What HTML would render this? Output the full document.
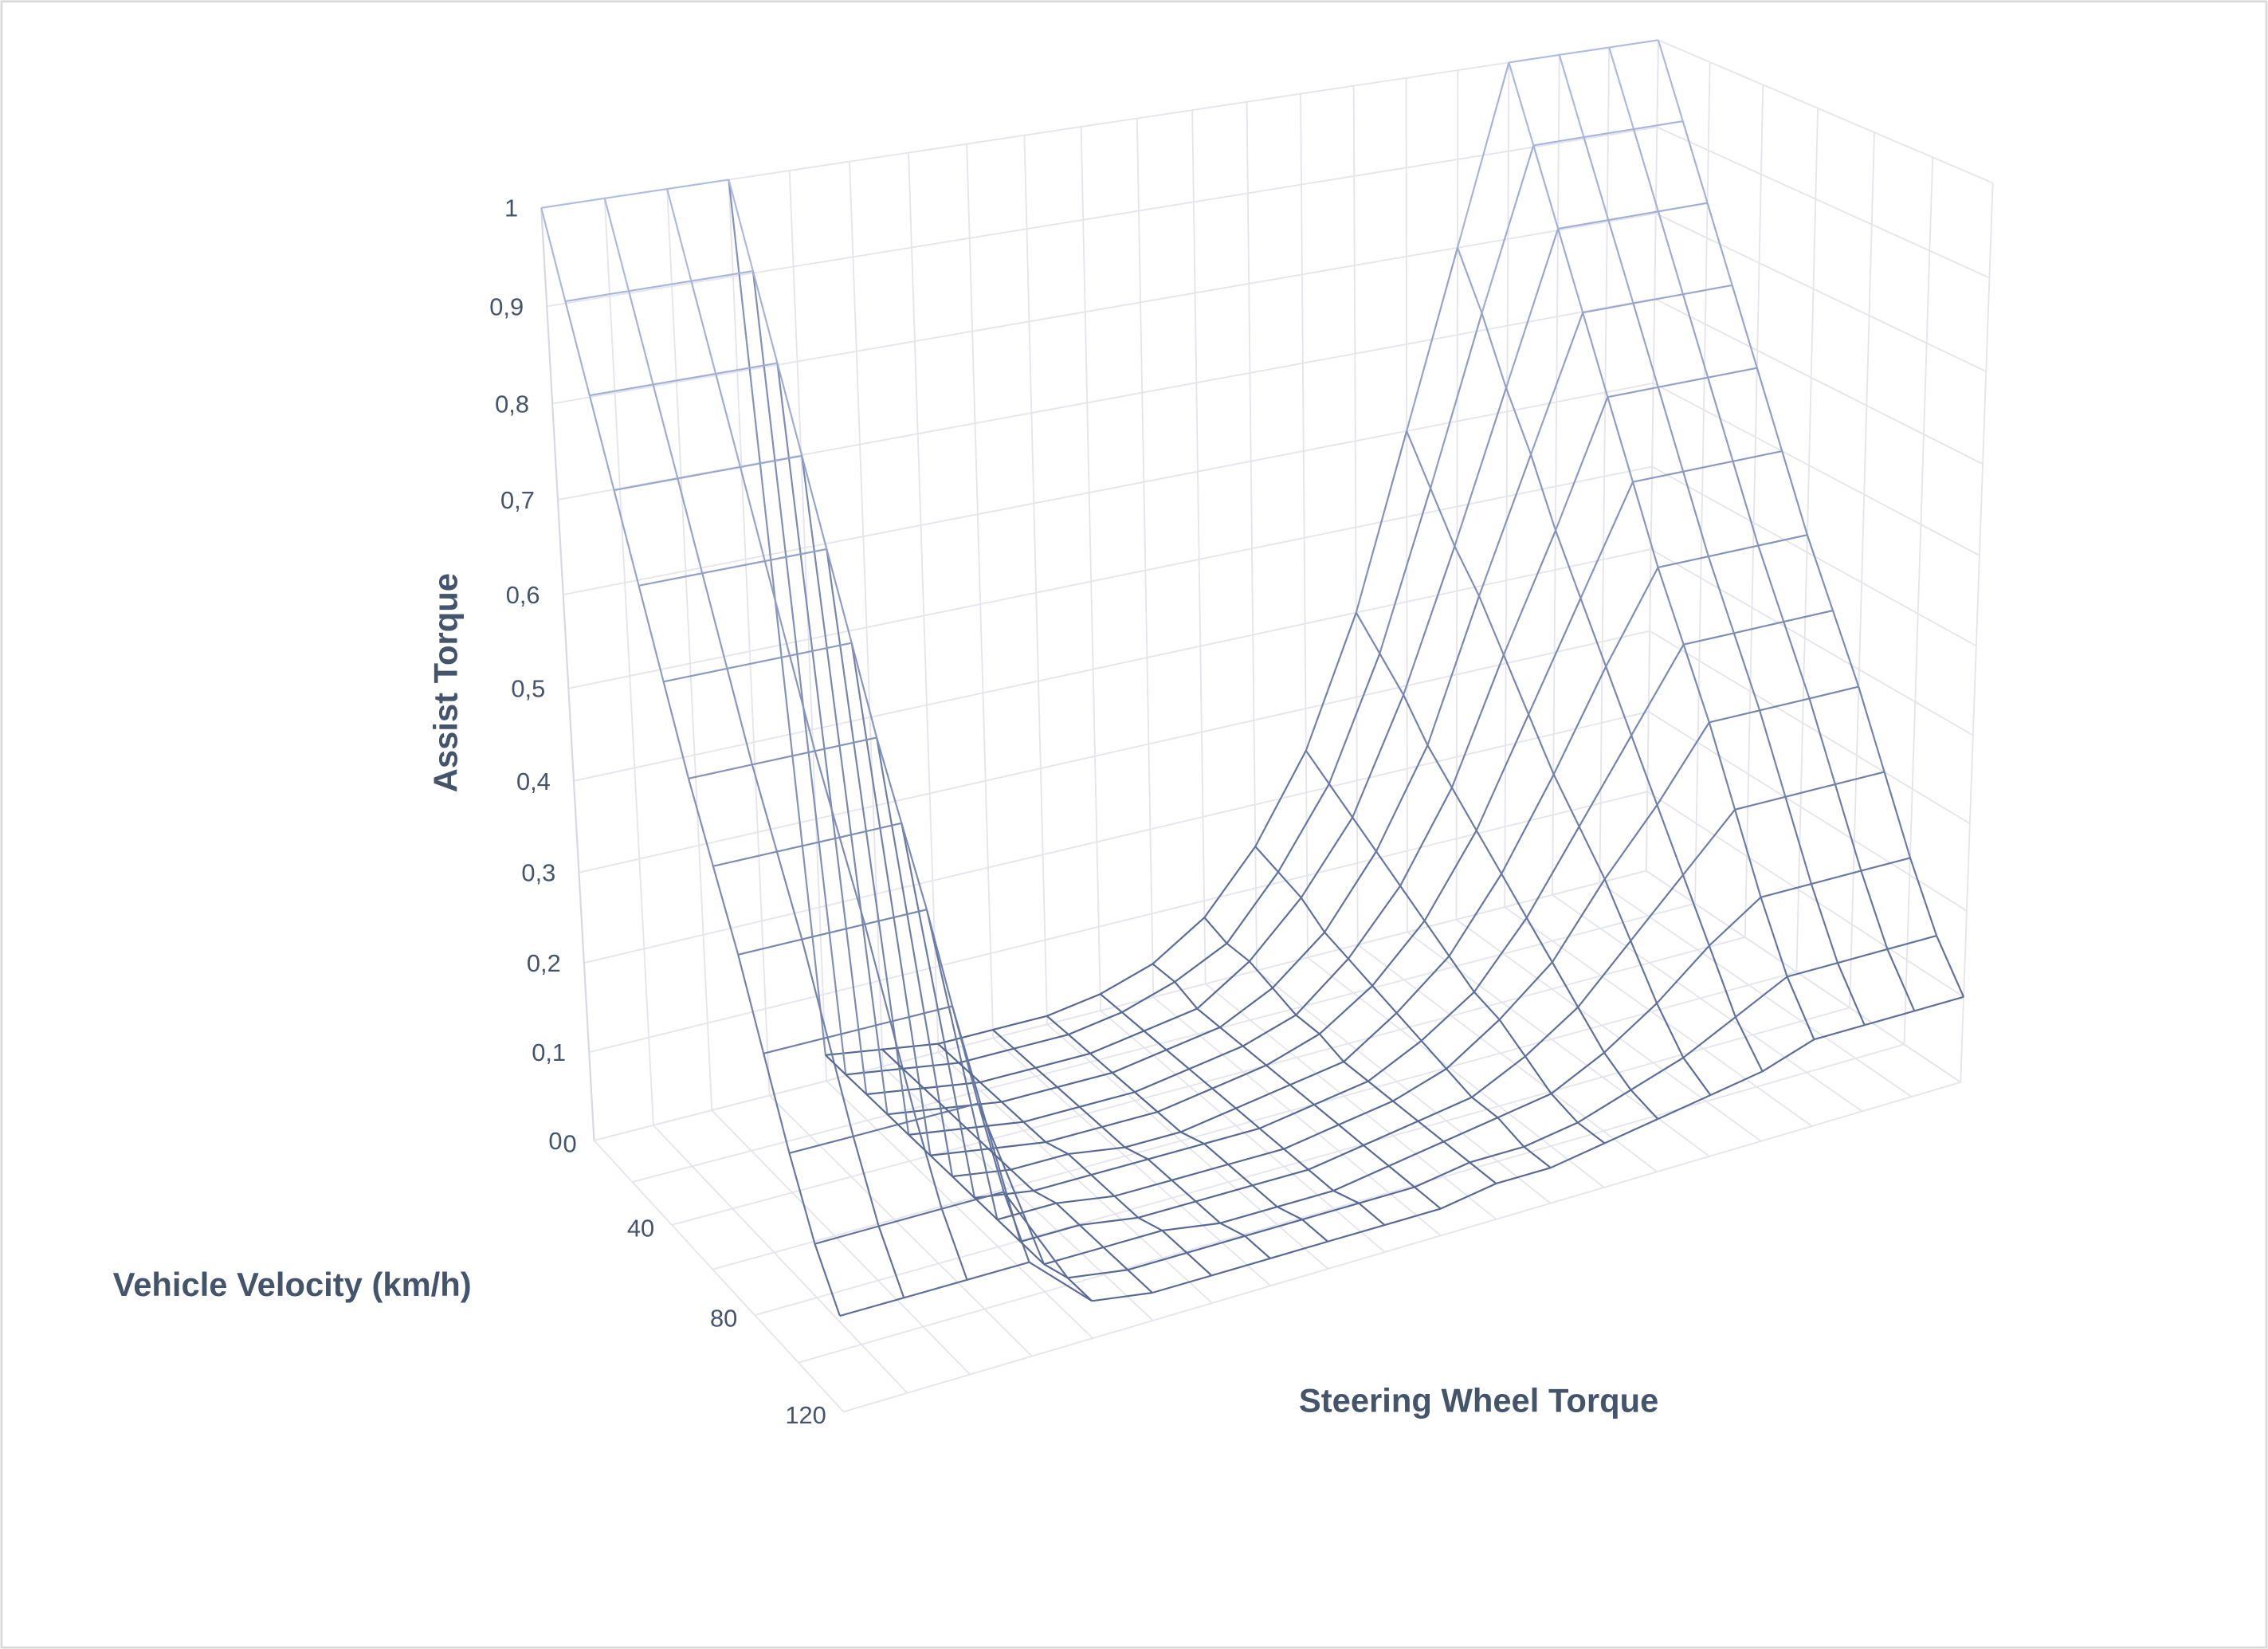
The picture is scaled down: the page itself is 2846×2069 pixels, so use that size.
<!DOCTYPE html>
<html><head><meta charset="utf-8"><style>
html,body{margin:0;padding:0;background:#fff;}
svg{display:block;}
text{font-family:"Liberation Sans",sans-serif;}
</style></head><body>
<svg id="chart" width="2846" height="2069" viewBox="0 0 1568 1140" xmlns="http://www.w3.org/2000/svg">
<rect x="1" y="1" width="1566" height="1138" fill="#fff" stroke="#d9d9d9" stroke-width="1.5"/>
<g id="grid"></g>
<g id="surface"></g>
<g id="labels"></g>
<text transform="translate(316,472) rotate(-90)" text-anchor="middle" font-size="23" font-weight="bold" fill="#44546a">Assist Torque</text>
<text x="78" y="896" font-size="23" font-weight="bold" fill="#44546a">Vehicle Velocity (km/h)</text>
<text x="898" y="976" font-size="23" font-weight="bold" fill="#44546a">Steering Wheel Torque</text>
</svg>
<script>
const torqueCats = [-10,-9,-8,-7,-6,-5,-4,-3,-2,-1,0,1,2,3,4,5,6,7,8,9,10];
const velocityCats = [0,10,20,30,40,50,60,70,80,90,100,110,120];
const velocityTicks = ["0","40","80","120"];
const velocityTickValues = [0,40,80,120];
const zTicks = ["0","0,1","0,2","0,3","0,4","0,5","0,6","0,7","0,8","0,9","1"];
const zTickValues = [0,0.1,0.2,0.3,0.4,0.5,0.6,0.7,0.8,0.9,1];
const assistV0   = [1,1,1,1,.03,.02,.01,.01,.01,.02,.04,.08,.15,.25,.40,.60,.80,1,1,1,1];
const assistV10  = [.92,.92,.92,.92,.03,.02,.01,.01,.01,.02,.04,.07,.14,.23,.37,.55,.74,.92,.92,.92,.92];
const assistV20  = [.84,.84,.84,.84,.03,.02,.01,.01,.01,.02,.03,.07,.13,.21,.34,.50,.67,.84,.84,.84,.84];
const assistV30  = [.76,.76,.76,.76,.03,.02,.01,.01,.01,.02,.03,.06,.11,.19,.30,.46,.61,.76,.76,.76,.76];
const assistV40  = [.68,.68,.68,.68,.03,.02,.01,.01,.01,.02,.03,.05,.10,.17,.27,.41,.54,.68,.68,.68,.68];
const assistV50  = [.60,.60,.60,.60,.03,.02,.01,.01,.01,.02,.03,.05,.09,.15,.24,.36,.48,.60,.60,.60,.60];
const assistV60  = [.52,.52,.52,.52,.03,.02,.02,.01,.01,.02,.03,.04,.08,.13,.21,.31,.42,.52,.52,.52,.52];
const assistV70  = [.45,.45,.45,.45,.03,.02,.02,.02,.02,.02,.03,.04,.07,.11,.18,.27,.36,.45,.45,.45,.45];
const assistV80  = [.38,.38,.38,.38,.03,.03,.02,.02,.02,.02,.03,.04,.06,.10,.15,.23,.30,.38,.38,.38,.38];
const assistV90  = [.30,.30,.30,.30,.03,.03,.02,.02,.02,.02,.03,.04,.05,.08,.12,.18,.24,.30,.30,.30,.30];
const assistV100 = [.22,.22,.22,.22,.03,.03,.03,.02,.02,.02,.03,.04,.05,.06,.09,.13,.18,.22,.22,.22,.22];
const assistV110 = [.15,.15,.15,.15,.04,.03,.03,.03,.03,.03,.03,.04,.04,.05,.07,.09,.12,.15,.15,.15,.15];
const assistV120 = [.10,.10,.10,.10,.04,.03,.03,.03,.03,.03,.03,.04,.04,.05,.06,.07,.08,.10,.10,.10,.10];
const surfaceRows = [assistV0,assistV10,assistV20,assistV30,assistV40,assistV50,assistV60,assistV70,assistV80,assistV90,assistV100,assistV110,assistV120];

// Box corner screen anchors (projection calibration, not data)
const anchors = [
  [0,0,0,410,800],[0,0,0,410,800],[0,0,1,374,140],[0,0,1,374,140],[0,1,0,585,958],[1,0,0,1143,576],
  [1,0,1,1143,40],[1,1,0,1350,770],[1,1,1,1382,120]
];
function solve(A,b){const n=b.length;for(let i=0;i<n;i++){let m=i;for(let k=i+1;k<n;k++)if(Math.abs(A[k][i])>Math.abs(A[m][i]))m=k;[A[i],A[m]]=[A[m],A[i]];[b[i],b[m]]=[b[m],b[i]];for(let k=i+1;k<n;k++){const f=A[k][i]/A[i][i];for(let j=i;j<n;j++)A[k][j]-=f*A[i][j];b[k]-=f*b[i];}}const x=new Array(n).fill(0);for(let i=n-1;i>=0;i--){let s=b[i];for(let j=i+1;j<n;j++)s-=A[i][j]*x[j];x[i]=s/A[i][i];}return x;}
const rowsM=[],rhs=[];
anchors.forEach(([X,Y,Z,u,v])=>{rowsM.push([X,Y,Z,1,0,0,0,0,-u*X,-u*Y,-u*Z]);rhs.push(u);rowsM.push([0,0,0,0,X,Y,Z,1,-v*X,-v*Y,-v*Z]);rhs.push(v);});
const N=Array.from({length:11},()=>new Array(11).fill(0)),Nb=new Array(11).fill(0);
for(let r=0;r<rowsM.length;r++)for(let i=0;i<11;i++){Nb[i]+=rowsM[r][i]*rhs[r];for(let j=0;j<11;j++)N[i][j]+=rowsM[r][i]*rowsM[r][j];}
const P=solve(N,Nb);
function proj(X,Y,Z){const w=P[8]*X+P[9]*Y+P[10]*Z+1;return[(P[0]*X+P[1]*Y+P[2]*Z+P[3])/w,(P[4]*X+P[5]*Y+P[6]*Z+P[7])/w];}
const xScale=i=>i/(torqueCats.length-1);
const yScale=vel=>vel/120;
const zScale=z=>z;
const NS="http://www.w3.org/2000/svg";
function line(g,pts,color,w,name){const p=document.createElementNS(NS,"polyline");p.setAttribute("points",pts.map(q=>q[0].toFixed(1)+","+q[1].toFixed(1)).join(" "));p.setAttribute("fill","none");p.setAttribute("stroke",color);p.setAttribute("stroke-width",w);p.setAttribute("stroke-linejoin","round");


g.appendChild(p);return p;}
const grid=document.getElementById("grid");
const gc="#e4e5ec";
torqueCats.forEach((c,i)=>line(grid,[proj(xScale(i),0,0),proj(xScale(i),0,1)],gc,1,"back-wall-vgrid"));
zTickValues.forEach(z=>line(grid,[proj(0,0,zScale(z)),proj(1,0,zScale(z))],gc,1,"back-wall-hgrid"));
const wallDepths=[0,20,40,60,80,100,120];
wallDepths.forEach(d=>line(grid,[proj(1,yScale(d),0),proj(1,yScale(d),1)],gc,1,"side-wall-vgrid"));
zTickValues.forEach(z=>line(grid,[proj(1,0,zScale(z)),proj(1,1,zScale(z))],gc,1,"side-wall-hgrid"));
wallDepths.forEach(d=>line(grid,[proj(0,yScale(d),0),proj(1,yScale(d),0)],gc,1,"floor-depth-grid"));
torqueCats.forEach((c,i)=>line(grid,[proj(xScale(i),0,0),proj(xScale(i),1,0)],gc,1,"floor-torque-grid"));
line(grid,[proj(0,0,1),proj(0,0,0)],"#d6d9e4",1.2,"z-axis-line");
const surf=document.getElementById("surface");
function col(z){const a=[176,188,226],b=[84,102,146];const t=Math.max(0,Math.min(1,z));return"rgb("+a.map((v,k)=>Math.round(b[k]+(v-b[k])*t)).join(",")+")";}
surfaceRows.forEach((row,j)=>{
  const pts=row.map((z,i)=>proj(xScale(i),yScale(velocityCats[j]),zScale(z)));
  for(let i=0;i<pts.length-1;i++) line(surf,[pts[i],pts[i+1]],col((row[i]+row[i+1])/2),1.2,"surface-row-segment");
});
torqueCats.forEach((c,i)=>{
  const pts=surfaceRows.map((row,j)=>proj(xScale(i),yScale(velocityCats[j]),zScale(row[i])));
  for(let j=0;j<pts.length-1;j++) line(surf,[pts[j],pts[j+1]],col((surfaceRows[j][i]+surfaceRows[j+1][i])/2),1.2,"surface-column-segment");
});
const lab=document.getElementById("labels");
function txt(s,x,y,anchor,name){const t=document.createElementNS(NS,"text");t.setAttribute("x",x);t.setAttribute("y",y);t.setAttribute("text-anchor",anchor);t.setAttribute("font-size","17");t.setAttribute("fill","#44546a");t.textContent=s;


lab.appendChild(t);}
zTicks.forEach((s,k)=>{const p=proj(0,0,zScale(zTickValues[k]));txt(s,p[0]-16-(k===0?6:0),p[1]+6,"end","z-tick-label");});
velocityTicks.forEach((s,k)=>{const p=proj(0,yScale(velocityTickValues[k]),0);txt(s,p[0]-12,p[1]+8,"end","velocity-tick-label");});
</script>
</body></html>
